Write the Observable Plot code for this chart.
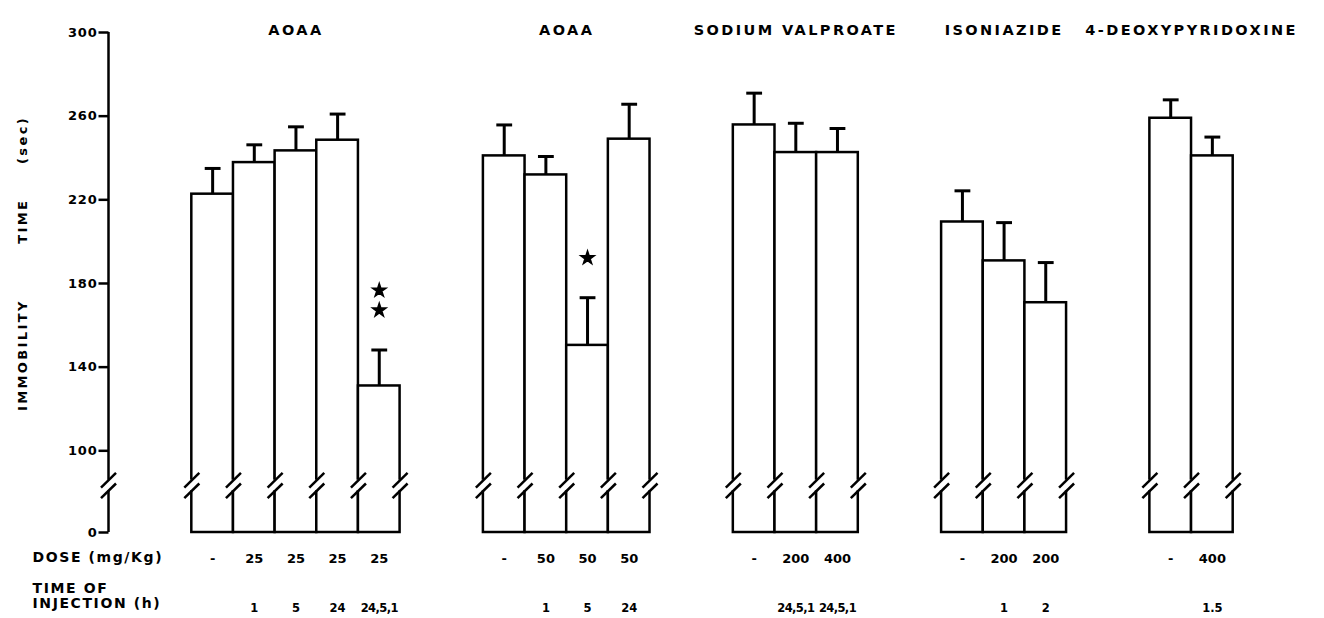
<!DOCTYPE html>
<html><head><meta charset="utf-8">
<script src="https://cdn.jsdelivr.net/npm/d3@7"></script>
<script src="https://cdn.jsdelivr.net/npm/@observablehq/plot@0.6"></script>
<style>
body{margin:0;background:#fff}
</style></head><body><div id="chart"></div>
<script>
// ---- data ----
const groupNames = ["AOAA", "AOAA", "SODIUM VALPROATE", "ISONIAZIDE", "4-DEOXYPYRIDOXINE"];
const barGroup = [0,0,0,0,0, 1,1,1,1, 2,2,2, 3,3,3, 4,4];
const means = [222.7,237.8,243.4,248.5,131.0, 241.0,231.9,150.4,249.0, 255.8,242.6,242.6, 209.4,190.8,170.8, 259.0,241.0];
const sems  = [12.3,8.5,11.5,12.5,17.2, 14.8,8.8,22.8,16.7, 15.2,14.0,11.5, 14.9,18.3,19.2, 8.8,9.0];
const doses = ["-","25","25","25","25", "-","50","50","50", "-","200","400", "-","200","200", "-","400"];
const times = ["","1","5","24","24,5,1", "","1","5","24", "","24,5,1","24,5,1", "","1","2", "","1.5"];
const signif = [0,0,0,0,2, 0,0,1,0, 0,0,0, 0,0,0, 0,0];
const yTicks = [0,100,140,180,220,260,300];
const yLabel = "IMMOBILITY\u00A0\u00A0\u00A0\u00A0\u00A0\u00A0\u00A0\u00A0TIME\u00A0\u00A0\u00A0\u00A0\u00A0(sec)";
const rowLabels = ["DOSE (mg/Kg)", "TIME OF", "INJECTION (h)"];

// ---- layout helpers (slots: one per bar, two blank slots between groups) ----
const bars = [];
let slot = 2;
barGroup.forEach((g, i) => {
  if (i > 0 && g !== barGroup[i - 1]) slot += 2;
  bars.push({slot, g, mean: means[i], cap: means[i] + sems[i], dose: doses[i], time: times[i], sig: signif[i]});
  slot += 1;
});
const groups = groupNames.map((name, g) => {
  const b = bars.filter(d => d.g === g);
  return {name, start: b[0].slot, end: b[b.length - 1].slot + 1};
});
const edges = [0];
groups.forEach(gr => { for (let e = gr.start; e <= gr.end; e++) edges.push(e); });
const stars = [];
bars.forEach(b => { for (let k = 0; k < b.sig; k++) stars.push({x: b.slot + 0.5, y: b.cap + 19 + 9.5 * k}); });

// broken axis: values below 100 are compressed
const k = 0.3906;
const squash = v => (v >= 100 ? v : 100 - (100 - v) * k);
const breakLo = 51, breakHi = 64;

const chart = Plot.plot({
  width: 1324,
  height: 618,
  marginLeft: 108,
  marginRight: 8,
  marginTop: 32,
  marginBottom: 86,
  style: {background: "white", color: "black", fontFamily: "'DejaVu Sans', sans-serif", fontWeight: "bold"},
  x: {domain: [0, 29], axis: null},
  y: {transform: squash, domain: [squash(0), 300], axis: null},
  marks: [
    Plot.rect(bars, {x1: "slot", x2: d => d.slot + 1, y1: 0, y2: "mean", fill: "white", stroke: "black", strokeWidth: 2.5}),
    // y axis: line, ticks and labels
    Plot.ruleX([0], {y1: 0, y2: 300, stroke: "black", strokeWidth: 2.5}),
    Plot.link(yTicks, {x1: -0.24, x2: 0, y1: d => d, y2: d => d, stroke: "black", strokeWidth: 2.5}),
    Plot.text(yTicks, {x: 0, y: d => d, text: d => String(d), dx: -11, textAnchor: "end", fontSize: 13}),
    // axis breaks
    Plot.rect(edges, {x1: e => e - 0.08, x2: e => e + 0.08, y1: breakLo, y2: breakHi, fill: "white"}),
    Plot.link(edges, {x1: e => e - 0.18, x2: e => e + 0.18, y1: breakHi - 9, y2: breakHi + 9, stroke: "black", strokeWidth: 2.5}),
    Plot.link(edges, {x1: e => e - 0.18, x2: e => e + 0.18, y1: breakLo - 9, y2: breakLo + 9, stroke: "black", strokeWidth: 2.5}),
    // error bars
    Plot.ruleX(bars, {x: d => d.slot + 0.5, y1: "mean", y2: "cap", stroke: "black", strokeWidth: 3}),
    Plot.link(bars, {x1: d => d.slot + 0.31, x2: d => d.slot + 0.69, y1: "cap", y2: "cap", stroke: "black", strokeWidth: 3}),
    // significance marks
    Plot.dot(stars, {x: "x", y: "y", symbol: "star", r: 4.2, fill: "black", stroke: "black", strokeWidth: 1.5}),
    // titles and labels
    Plot.text(groups, {x: d => (d.start + d.end) / 2, text: "name", frameAnchor: "top", dy: -8, fontSize: 14.5}),
    Plot.text([yLabel], {frameAnchor: "left", textAnchor: "middle", rotate: -90, dx: -86, dy: -19, fontSize: 13}),
    Plot.text(bars, {x: d => d.slot + 0.5, text: "dose", frameAnchor: "bottom", dy: 30, fontSize: 13}),
    Plot.text(bars, {x: d => d.slot + 0.5, text: "time", frameAnchor: "bottom", dy: 79, fontSize: 11.5}),
    Plot.text([rowLabels[0]], {frameAnchor: "bottom-left", textAnchor: "start", dx: -76, dy: 29, fontSize: 14}),
    Plot.text([rowLabels[1]], {frameAnchor: "bottom-left", textAnchor: "start", dx: -76, dy: 60, fontSize: 14}),
    Plot.text([rowLabels[2]], {frameAnchor: "bottom-left", textAnchor: "start", dx: -76, dy: 75, fontSize: 14})
  ]
});
// letter spacing for the wide-set lettering
d3.select(chart).selectAll("text").each(function () {
  const t = this.textContent;
  if (groupNames.includes(t)) this.style.letterSpacing = "2.4px";
  else if (t === yLabel) this.style.letterSpacing = "2.4px";
  else if (rowLabels.includes(t)) this.style.letterSpacing = "1.6px";
  else if (yTicks.map(String).includes(t)) this.style.letterSpacing = "0.8px";
  else if (t.includes(",")) this.style.letterSpacing = "-0.6px";
});
document.getElementById("chart").appendChild(chart);
</script></body></html>
